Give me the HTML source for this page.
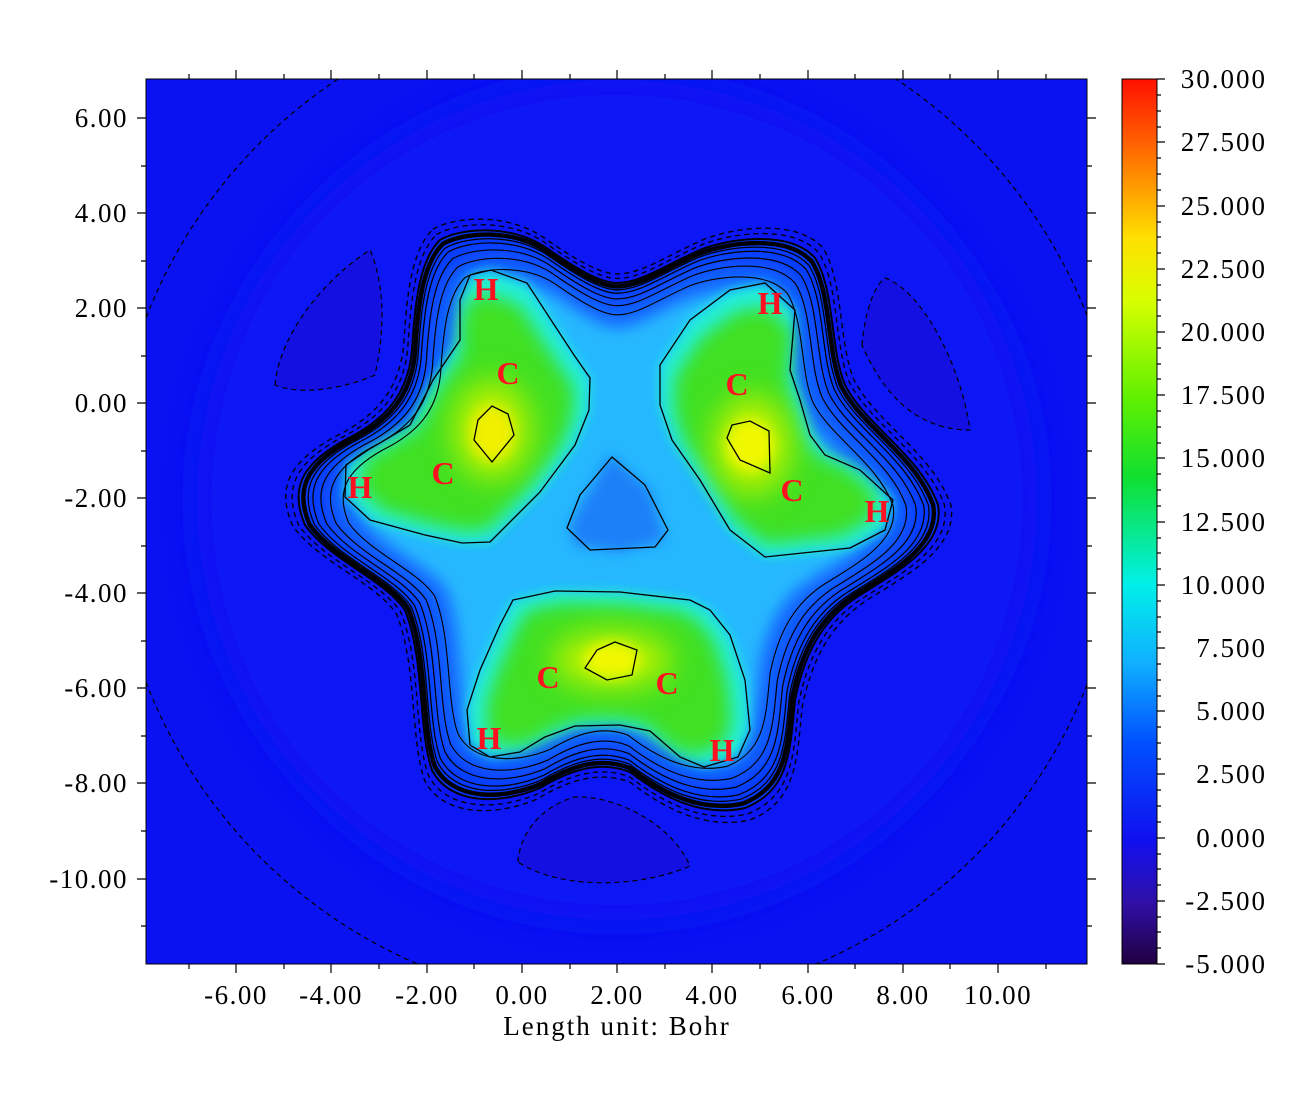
<!DOCTYPE html>
<html><head><meta charset="utf-8"><style>
body{margin:0;background:#fff;}
svg{display:block;font-family:"Liberation Serif",serif;}
</style></head><body>
<svg width="1306" height="1104" viewBox="0 0 1306 1104">
<defs>
<filter id="b6" x="-20%" y="-20%" width="140%" height="140%"><feGaussianBlur stdDeviation="6"/></filter>
<filter id="b10" x="-30%" y="-30%" width="160%" height="160%"><feGaussianBlur stdDeviation="9"/></filter>
<filter id="b12" x="-30%" y="-30%" width="160%" height="160%"><feGaussianBlur stdDeviation="14"/></filter>
<filter id="b20" x="-30%" y="-30%" width="160%" height="160%"><feGaussianBlur stdDeviation="22"/></filter>
<clipPath id="pc"><rect x="146" y="79" width="941" height="885"/></clipPath>
<linearGradient id="cb" x1="0" y1="0" x2="0" y2="1">
<stop offset="0" stop-color="#ff1000"/>
<stop offset="0.08" stop-color="#ff6a00"/>
<stop offset="0.18" stop-color="#ffe000"/>
<stop offset="0.25" stop-color="#d8ff00"/>
<stop offset="0.36" stop-color="#60f000"/>
<stop offset="0.45" stop-color="#10e030"/>
<stop offset="0.57" stop-color="#00f0e8"/>
<stop offset="0.66" stop-color="#10b0ff"/>
<stop offset="0.75" stop-color="#0050ff"/>
<stop offset="0.86" stop-color="#1010f0"/>
<stop offset="0.93" stop-color="#3010a8"/>
<stop offset="1" stop-color="#200040"/>
</linearGradient>
<path id="tre" d="M440,240 C460,228 510,224 545,247 C575,268 600,283 617,283 C640,283 660,268 700,250 C730,238 790,230 815,258 C835,290 830,350 845,385 C865,425 920,455 938,505 C945,545 900,570 865,592 C825,615 805,650 795,700 C790,750 790,790 745,808 C700,818 660,795 630,772 C600,760 570,770 540,788 C500,805 450,805 432,770 C418,730 425,660 405,610 C385,580 330,560 305,525 C290,490 300,465 345,440 C385,420 408,395 412,350 C415,300 420,260 440,240 Z"/>
<path id="L1" d="M470,275 L491,270 L527,283 L553,323 L574,355 L590,378 L589,410 L575,445 L540,492 L520,512 L490,542 L462,543 L425,535 L370,520 L345,497 L346,465 L368,450 L410,425 L433,380 L460,340 L460,300 Z"/>
<path id="L2" d="M660,365 L690,320 L730,290 L765,283 L795,310 L790,370 L800,400 L810,435 L825,455 L860,470 L893,500 L885,530 L850,548 L765,557 L730,530 L700,480 L672,440 L660,405 Z"/>
<path id="L3" d="M513,600 L555,591 L620,592 L690,600 L710,610 L730,635 L745,680 L750,730 L738,757 L704,767 L680,757 L650,731 L620,725 L575,726 L545,737 L520,752 L490,757 L470,745 L467,710 L480,670 L500,625 Z"/>
</defs>
<g clip-path="url(#pc)">
<rect x="146" y="79" width="941" height="885" fill="#0a12f2"/>
<circle cx="617" cy="500" r="420" fill="#0c18f4" filter="url(#b20)"/>
<path d="M275,385 C280,330 330,275 370,250 C385,285 385,330 375,375 C340,390 300,395 275,385 Z" fill="#1510e2" stroke="#000" stroke-width="1.2" stroke-dasharray="5,4"/>
<path d="M862,345 C865,310 875,285 885,278 C920,290 960,360 970,430 C930,430 890,410 862,345 Z" fill="#1510e2" stroke="#000" stroke-width="1.2" stroke-dasharray="5,4"/>
<path d="M518,862 C520,830 545,805 575,797 C610,795 670,820 690,866 C640,888 560,890 518,862 Z" fill="#1510e2" stroke="#000" stroke-width="1.2" stroke-dasharray="5,4"/>
<circle cx="617" cy="500" r="505" fill="none" stroke="#000" stroke-width="1.2" stroke-dasharray="5,4"/>
<use href="#tre" fill="#0838ff"/>
<use href="#tre" fill="#1470ff" filter="url(#b12)" transform="translate(617,510) scale(0.9) translate(-617,-510)"/>
<use href="#tre" fill="#28b8ff" filter="url(#b10)" transform="translate(617,510) scale(0.8) translate(-617,-510)"/>
<g filter="url(#b6)">
<use href="#L1" fill="#20f0e0"/><use href="#L2" fill="#20f0e0"/><use href="#L3" fill="#20f0e0"/>
</g>
<g filter="url(#b10)">
<use href="#L1" fill="#40e020" transform="translate(470,450) scale(0.87) translate(-470,-450)"/>
<use href="#L2" fill="#40e020" transform="translate(770,460) scale(0.87) translate(-770,-460)"/>
<use href="#L3" fill="#40e020" transform="translate(610,680) scale(0.87) translate(-610,-680)"/>
</g>
<g filter="url(#b12)">
<ellipse cx="492" cy="430" rx="40" ry="50" fill="#b0f000"/>
<ellipse cx="752" cy="445" rx="40" ry="50" fill="#b0f000"/>
<ellipse cx="612" cy="660" rx="60" ry="30" fill="#b0f000"/>
</g>
<g filter="url(#b6)">
<ellipse cx="492" cy="433" rx="22" ry="28" fill="#f0f000"/>
<ellipse cx="750" cy="445" rx="24" ry="26" fill="#f0f800"/>
<ellipse cx="612" cy="660" rx="28" ry="18" fill="#f0f800"/>
</g>
<path d="M610,455 L650,490 665,540 620,552 575,545 570,525 Z" fill="#1a80f8" filter="url(#b6)"/>
<g fill="none" stroke="#000" stroke-width="1.3">
<path d="M612,457 L645,485 L668,530 L655,547 L590,550 L567,528 L580,495 Z"/>
<path d="M478,420 L492,406 L508,414 L514,435 L492,462 L474,440 Z"/>
<path d="M732,425 L750,421 L769,431 L770,473 L740,460 L727,438 Z"/>
<path d="M597,650 L615,642 L637,650 L632,675 L607,680 L585,668 Z"/>
<use href="#L1"/><use href="#L2"/><use href="#L3"/>
<use href="#tre" transform="translate(617,510) scale(0.86) translate(-617,-510)"/>
<use href="#tre" transform="translate(617,510) scale(0.9) translate(-617,-510)"/>
<use href="#tre" transform="translate(617,510) scale(0.93) translate(-617,-510)"/>
<use href="#tre" transform="translate(617,510) scale(0.955) translate(-617,-510)"/>
<use href="#tre" transform="translate(617,510) scale(0.97) translate(-617,-510)"/>
<use href="#tre" stroke-width="4.5" transform="translate(617,510) scale(0.985) translate(-617,-510)"/>
<use href="#tre" stroke-width="2"/>
<use href="#tre" stroke-dasharray="5,4" transform="translate(617,510) scale(1.02) translate(-617,-510)"/>
<use href="#tre" stroke-dasharray="5,4" transform="translate(617,510) scale(1.04) translate(-617,-510)"/>
</g>
<g fill="#ff1020" font-weight="bold" font-size="32" text-anchor="middle">
<text x="486" y="300">H</text><text x="770" y="314">H</text>
<text x="360" y="498">H</text><text x="877" y="522">H</text>
<text x="489" y="749">H</text><text x="722" y="761">H</text>
<text x="508" y="384">C</text><text x="737" y="395">C</text>
<text x="443" y="484">C</text><text x="792" y="501">C</text>
<text x="548" y="688">C</text><text x="667" y="694">C</text>
</g>
</g>
<rect x="146" y="79" width="941" height="885" fill="none" stroke="#000" stroke-width="1"/>
<g stroke="#000" stroke-width="1.2">
<path d="M189,79v-5M236,79v-9M284,79v-5M331,79v-9M379,79v-5M427,79v-9M474,79v-5M522,79v-9M570,79v-5M617,79v-9M665,79v-5M712,79v-9M760,79v-5M808,79v-9M855,79v-5M903,79v-9M950,79v-5M998,79v-9M1046,79v-5"/>
<path d="M189,964v5M236,964v9M284,964v5M331,964v9M379,964v5M427,964v9M474,964v5M522,964v9M570,964v5M617,964v9M665,964v5M712,964v9M760,964v5M808,964v9M855,964v5M903,964v9M950,964v5M998,964v9M1046,964v5"/>
<path d="M146,118h-9M146,166h-5M146,213h-9M146,261h-5M146,308h-9M146,356h-5M146,403h-9M146,451h-5M146,498h-9M146,546h-5M146,593h-9M146,641h-5M146,688h-9M146,736h-5M146,783h-9M146,831h-5M146,879h-9M146,926h-5"/>
<path d="M1087,118h9M1087,166h5M1087,213h9M1087,261h5M1087,308h9M1087,356h5M1087,403h9M1087,451h5M1087,498h9M1087,546h5M1087,593h9M1087,641h5M1087,688h9M1087,736h5M1087,783h9M1087,831h5M1087,879h9M1087,926h5"/>
</g>
<g font-size="27" text-anchor="end" letter-spacing="1.5">
<text x="128" y="127">6.00</text><text x="128" y="222">4.00</text><text x="128" y="317">2.00</text>
<text x="128" y="412">0.00</text><text x="128" y="507">-2.00</text><text x="128" y="602">-4.00</text>
<text x="128" y="697">-6.00</text><text x="128" y="792">-8.00</text><text x="128" y="888">-10.00</text>
</g>
<g font-size="27" text-anchor="middle" letter-spacing="1.5">
<text x="236" y="1004">-6.00</text><text x="331" y="1004">-4.00</text><text x="427" y="1004">-2.00</text>
<text x="522" y="1004">0.00</text><text x="617" y="1004">2.00</text><text x="712" y="1004">4.00</text>
<text x="808" y="1004">6.00</text><text x="903" y="1004">8.00</text><text x="998" y="1004">10.00</text>
<text x="617" y="1035" letter-spacing="2">Length unit: Bohr</text>
</g>
<rect x="1122" y="79" width="35" height="885" fill="url(#cb)" stroke="#000" stroke-width="1"/>
<g stroke="#000" stroke-width="1.2">
<path d="M1157,79h8M1157,142h8M1157,206h8M1157,269h8M1157,332h8M1157,395h8M1157,458h8M1157,522h8M1157,585h8M1157,648h8M1157,711h8M1157,774h8M1157,838h8M1157,901h8M1157,964h8"/>
<path d="M1157,95h4M1157,111h4M1157,127h4M1157,158h4M1157,174h4M1157,190h4M1157,222h4M1157,237h4M1157,253h4M1157,285h4M1157,300h4M1157,316h4M1157,348h4M1157,364h4M1157,379h4M1157,411h4M1157,427h4M1157,443h4M1157,474h4M1157,490h4M1157,506h4M1157,538h4M1157,553h4M1157,569h4M1157,601h4M1157,617h4M1157,632h4M1157,664h4M1157,680h4M1157,696h4M1157,727h4M1157,743h4M1157,759h4M1157,790h4M1157,806h4M1157,822h4M1157,854h4M1157,869h4M1157,885h4M1157,917h4M1157,932h4M1157,948h4"/>
</g>
<g font-size="27" text-anchor="end" letter-spacing="2">
<text x="1267" y="88">30.000</text><text x="1267" y="151">27.500</text><text x="1267" y="215">25.000</text>
<text x="1267" y="278">22.500</text><text x="1267" y="341">20.000</text><text x="1267" y="404">17.500</text>
<text x="1267" y="467">15.000</text><text x="1267" y="531">12.500</text><text x="1267" y="594">10.000</text>
<text x="1267" y="657">7.500</text><text x="1267" y="720">5.000</text><text x="1267" y="783">2.500</text>
<text x="1267" y="847">0.000</text><text x="1267" y="910">-2.500</text><text x="1267" y="973">-5.000</text>
</g>
</svg>
</body></html>
